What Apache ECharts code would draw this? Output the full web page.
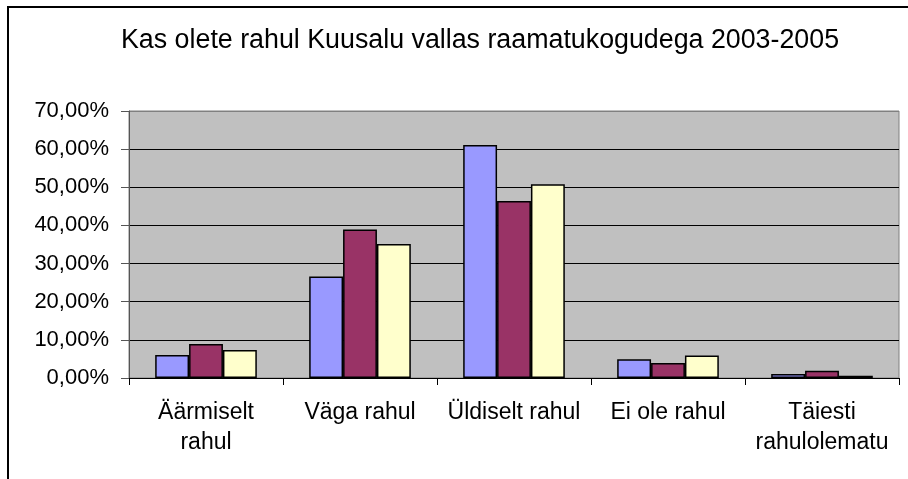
<!DOCTYPE html>
<html>
<head>
<meta charset="utf-8">
<script src="https://cdn.jsdelivr.net/npm/echarts@6/dist/echarts.min.js"></script>
<style>
  html, body { margin: 0; padding: 0; background: #fff; }
  #main { width: 908px; height: 479px; }
</style>
</head>
<body>
<div id="main"></div>
<script>
var categories = ['Äärmiselt\nrahul', 'Väga rahul', 'Üldiselt rahul', 'Ei ole rahul', 'Täiesti\nrahulolematu'];
var years = ['2003', '2004', '2005'];
var values2003 = [6.0, 26.6, 61.1, 4.9, 1.05];
var values2004 = [8.9, 38.9, 46.4, 3.9, 1.9];
var values2005 = [7.35, 35.1, 50.8, 5.9, 0.6];
var colors = ['#9999FF', '#993366', '#FFFFCC'];

var chartDom = document.getElementById('main');
var myChart = echarts.init(chartDom);
var option;

function pct(v) {
  return v.toFixed(2).replace('.', ',') + '%';
}

var seriesData = [values2003, values2004, values2005];
var series = [];
for (var i = 0; i < years.length; i++) {
  series.push({
    name: years[i],
    type: 'bar',
    data: seriesData[i],
    barGap: '0%',
    barCategoryGap: '34%',
    itemStyle: {
      color: colors[i],
      borderColor: '#000',
      borderWidth: 1.5
    }
  });
}

option = {
  animation: false,
  textStyle: { fontFamily: 'Liberation Sans, Arial, sans-serif' },
  title: {
    text: 'Kas olete rahul Kuusalu vallas raamatukogudega 2003-2005',
    left: 116,
    top: 22,
    textStyle: {
      color: '#000',
      fontSize: 26.8,
      fontWeight: 'normal',
      fontFamily: 'Liberation Sans, Arial, sans-serif'
    }
  },
  graphic: [{
    type: 'rect',
    shape: { x: 8, y: 7, width: 1000, height: 1000 },
    style: { fill: null, stroke: '#000', lineWidth: 2 },
    silent: true
  }],
  grid: {
    left: 129,
    top: 111,
    right: 9,
    bottom: 101,
    show: true,
    backgroundColor: '#C0C0C0',
    borderColor: '#808080',
    borderWidth: 1
  },
  xAxis: {
    type: 'category',
    data: categories,
    axisLine: { lineStyle: { color: '#000', width: 1 } },
    axisTick: { show: true, length: 7, lineStyle: { color: '#000' } },
    axisLabel: {
      interval: 0,
      color: '#000',
      fontSize: 23,
      margin: 20,
      lineHeight: 30,
      fontFamily: 'Liberation Sans, Arial, sans-serif'
    }
  },
  yAxis: {
    type: 'value',
    min: 0,
    max: 70,
    interval: 10,
    axisLine: { show: true, lineStyle: { color: '#555', width: 1 } },
    axisTick: { show: true, inside: false, length: 8, lineStyle: { color: '#555' } },
    axisLabel: {
      color: '#000',
      fontSize: 22,
      margin: 20,
      formatter: pct,
      fontFamily: 'Liberation Sans, Arial, sans-serif'
    },
    splitLine: {
      show: true,
      lineStyle: {
        color: ['#000', '#000', '#000', '#000', '#000', '#000', '#000', '#808080'],
        width: 1
      }
    }
  },
  series: series
};

option && myChart.setOption(option);
</script>
</body>
</html>
